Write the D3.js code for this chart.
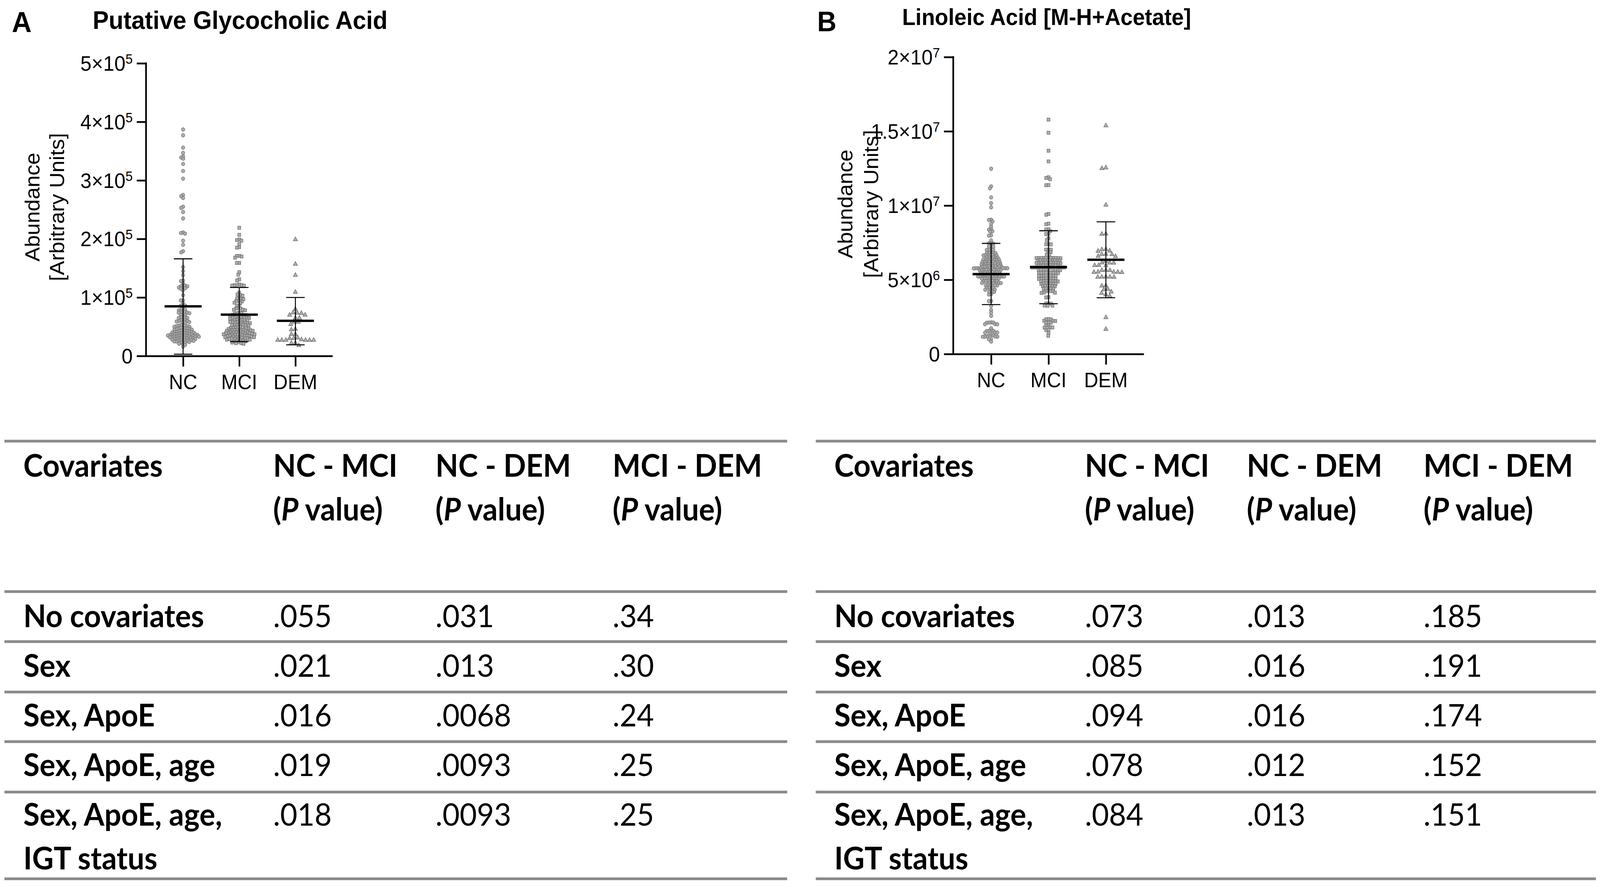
<!DOCTYPE html>
<html><head><meta charset="utf-8">
<script src="https://cdn.jsdelivr.net/npm/d3@7"></script>
<style>html,body{margin:0;padding:0;background:#fff;overflow:hidden} svg{display:block;width:100vw;height:100vh}</style>
</head><body>
<svg id="c" viewBox="0 0 4317 2270" preserveAspectRatio="none"></svg>
<script>
const categories = ["NC","MCI","DEM"];

// Panel A: Putative Glycocholic Acid, values in units of 1e5
const ncA = [3.87,3.77,3.56,3.47,3.41,3.39,3.37,3.28,3.16,3.03,2.75,2.73,2.70,2.55,2.53,2.46,2.35,2.11,2.10,2.09,1.97,1.90,1.79,1.77,
1.52,1.45,1.38,1.29,1.28,1.24,1.20,1.20,1.19,1.19,1.17,1.16,1.16,1.15,1.12,1.04,0.95,0.95,0.90,0.86,0.86,0.86,
0.80,0.79,0.79,0.78,0.76,0.75,0.75,0.74,0.74,0.73,0.71,0.70,0.70,0.67,0.66,0.66,0.65,0.65,
0.62,0.61,0.61,0.60,0.60,0.59,0.58,0.58,0.57,
0.53,0.53,0.52,0.52,0.51,0.51,0.50,0.50,
0.48,0.48,0.47,0.47,0.47,0.46,0.46,0.45,0.45,0.44,
0.43,0.43,0.42,0.42,0.42,0.41,0.41,0.41,0.40,0.40,0.40,0.39,
0.39,0.38,0.38,0.38,0.37,0.37,0.37,0.37,0.36,0.36,0.36,0.36,0.35,0.35,
0.35,0.34,0.34,0.34,0.34,0.33,0.33,0.33,0.33,0.32,0.32,0.32,0.31,0.31,
0.31,0.30,0.30,0.30,0.29,0.29,0.29,0.28,0.28,0.28,0.27,0.27,
0.27,0.26,0.26,0.26,0.25,0.25,0.24,0.24,0.23,0.23,
0.21,0.20,0.19,0.16];
const mciA = [2.19,2.07,1.99,1.98,1.97,1.91,1.86,1.85,1.71,1.71,1.70,1.68,1.59,1.59,1.43,1.39,1.31,1.29,1.22,1.21,1.21,1.21,1.20,1.20,
1.08,1.05,1.04,1.03,1.00,0.98,0.97,0.97,0.94,0.94,0.93,0.91,0.90,0.86,0.86,0.82,0.81,0.81,0.79,0.79,0.78,
0.74,0.73,0.73,0.72,0.70,0.70,0.70,0.69,0.69,0.69,0.68,0.66,0.66,0.66,0.65,0.65,0.65,0.64,0.64,
0.62,0.62,0.61,0.61,0.61,0.60,0.58,0.58,0.58,0.57,0.57,0.57,0.56,0.56,
0.54,0.54,0.53,0.53,0.53,0.52,0.52,0.50,0.49,0.49,0.49,0.48,0.48,0.48,0.47,
0.46,0.45,0.45,0.45,0.44,0.44,0.44,0.43,0.43,0.43,0.42,0.41,0.41,0.41,0.40,0.40,0.40,0.39,0.39,0.39,
0.38,0.38,0.38,0.37,0.37,0.37,0.36,0.36,0.36,0.35,0.35,0.34,0.34,0.34,0.33,0.33,0.33,0.32,0.32,0.32,
0.31,0.30,0.30,0.30,0.29,0.29,0.29,0.28,0.28,0.27,0.26,0.26,0.25,0.25,0.24,0.23,0.22,0.22,0.21];
const demA = [1.99,1.57,1.38,1.09,0.80,0.74,0.735,0.73,0.70,0.70,0.65,0.65,0.58,0.58,0.54,0.45,0.46,0.37,0.37,0.31,0.30,0.30,
0.27,0.27,0.27,0.27,0.27,0.27,0.28,0.22,0.22,0.18];
const meanA = [0.847, 0.706, 0.600];
const sdLowA = [0.03, 0.246, 0.19];
const sdHighA = [1.66, 1.17, 1.00];
const ticksA = [0,1,2,3,4,5];
const tickMainA = ["0","1×10","2×10","3×10","4×10","5×10"];
const tickSupA = ["","5","5","5","5","5"];

// Panel B: Linoleic Acid [M-H+Acetate], values in units of 1e6
const ncB = [12.48,11.29,11.16,10.55,10.16,9.88,9.05,9.03,8.93,8.76,8.57,8.40,8.38,8.27,8.25,7.99,7.97,7.65,
7.47,7.46,7.44,7.26,7.25,7.23,7.04,7.03,7.02,7.01,6.82,6.81,6.81,6.80,6.79,6.67,6.66,6.66,6.65,6.64,6.66,
6.51,6.50,6.50,6.49,6.51,6.48,6.37,6.36,6.36,6.35,6.37,6.34,6.36,6.35,6.21,6.20,6.20,6.19,6.21,6.18,6.20,6.19,
6.06,6.05,6.05,6.04,6.06,6.03,6.05,6.04,6.05,5.91,5.90,5.90,5.89,5.91,5.88,5.90,5.89,5.90,
5.79,5.78,5.78,5.77,5.79,5.76,5.78,5.77,5.78,5.79,5.65,5.64,5.64,5.63,5.65,5.62,5.64,5.63,5.64,5.65,
5.50,5.49,5.49,5.48,5.50,5.47,5.49,5.48,5.49,5.36,5.35,5.35,5.34,5.36,5.33,5.35,5.34,5.35,
5.23,5.22,5.22,5.21,5.23,5.20,5.22,5.21,5.09,5.08,5.08,5.07,5.09,5.06,5.08,5.07,
4.92,4.91,4.91,4.90,4.92,4.89,4.91,4.79,4.78,4.78,4.77,4.79,4.76,4.64,4.63,4.63,4.62,4.64,
4.47,4.46,4.46,4.45,4.34,4.33,4.32,4.20,4.19,4.18,4.03,4.01,3.58,3.56,3.24,2.96,2.79,2.57,
2.13,2.12,2.12,2.11,2.02,2.01,2.00,1.73,1.57,1.56,1.56,1.55,1.46,1.45,1.44,1.29,1.28,1.27,
1.18,1.17,1.17,1.16,1.18,1.01,0.99,0.84];
const mciB = [15.79,14.90,13.69,12.97,11.90,11.86,11.77,11.38,11.37,9.43,9.38,8.78,8.74,8.40,8.39,8.28,8.10,8.08,7.79,7.67,
7.40,7.39,7.38,7.04,7.03,7.02,6.87,6.85,6.71,6.69,
6.48,6.47,6.47,6.46,6.48,6.45,6.47,6.46,6.47,6.48,6.46,
6.32,6.31,6.31,6.30,6.32,6.29,6.31,6.30,6.31,6.32,
6.15,6.14,6.14,6.13,6.15,6.12,6.14,6.13,6.14,6.15,6.13,
5.98,5.97,5.97,5.96,5.98,5.95,5.97,5.96,5.97,
5.84,5.83,5.83,5.82,5.84,5.81,5.83,5.82,5.83,5.84,
5.67,5.66,5.66,5.65,5.67,5.64,5.66,5.65,5.66,
5.48,5.47,5.47,5.46,5.48,5.45,5.47,5.46,5.47,
5.28,5.27,5.27,5.26,5.28,5.25,5.27,5.26,
5.09,5.08,5.08,5.07,5.09,5.06,5.08,5.07,
4.92,4.91,4.91,4.90,4.92,4.89,4.91,4.90,
4.75,4.74,4.74,4.73,4.75,4.72,4.74,
4.59,4.58,4.58,4.57,4.59,4.56,
4.42,4.41,4.41,4.40,4.42,4.25,4.24,4.24,4.23,4.14,4.13,4.12,3.83,3.81,
3.41,3.40,3.39,3.27,3.26,3.25,2.35,2.34,2.33,2.24,2.23,2.22,2.13,2.12,2.11,1.93,1.91,1.80,1.79,1.78,1.63,1.61,1.40,1.23];
const demB = [15.38,12.55,12.50,10.04,8.10,8.08,7.06,7.04,6.95,6.93,6.73,6.72,6.71,6.59,6.57,6.25,6.15,6.14,6.13,5.98,5.97,5.96,
5.65,5.64,5.63,5.53,5.52,5.52,5.51,5.50,5.20,5.19,5.19,5.18,5.18,4.61,4.59,4.36,4.34,4.19,4.10,4.00,3.91,2.46,1.67];
const meanB = [5.38, 5.85, 6.35];
const sdLowB = [3.33, 3.39, 3.79];
const sdHighB = [7.45, 8.30, 8.90];
const ticksB = [0,5,10,15,20];
const tickMainB = ["0","5×10","1×10","1.5×10","2×10"];
const tickSupB = ["","6","7","7","7"];

// Tables
const tableHeads = ["Covariates","NC - MCI","NC - DEM","MCI - DEM"];
const covariateRows = [["No covariates"],["Sex"],["Sex, ApoE"],["Sex, ApoE, age"],["Sex, ApoE, age,","IGT status"]];
const pA_ncmci = [".055",".021",".016",".019",".018"];
const pA_ncdem = [".031",".013",".0068",".0093",".0093"];
const pA_mcidem = [".34",".30",".24",".25",".25"];
const pB_ncmci = [".073",".085",".094",".078",".084"];
const pB_ncdem = [".013",".016",".016",".012",".013"];
const pB_mcidem = [".185",".191",".174",".152",".151"];

const svg = d3.select("#c");
const AX = "'Liberation Sans', Arial, sans-serif";
const TF = "Lato, 'Open Sans', sans-serif";

function swarm(values, y, step) {
  const pts = values.map(v => ({v, y: y(v), x: 0}));
  const order = pts.slice().sort((a, b) => a.y - b.y);
  const placed = [];
  const s2 = step * step;
  for (const p of order) {
    const cands = [0];
    for (const q of placed) {
      const dy = Math.abs(q.y - p.y);
      if (dy < step) {
        const dx = Math.sqrt(s2 - dy * dy);
        cands.push(q.x + dx, q.x - dx);
      }
    }
    cands.sort((a, b) => Math.abs(a) - Math.abs(b) || a - b);
    for (const c of cands) {
      let ok = true;
      for (const q of placed) {
        if ((q.x - c) ** 2 + (q.y - p.y) ** 2 < s2 - 0.01) { ok = false; break; }
      }
      if (ok) { p.x = c; break; }
    }
    placed.push(p);
  }
  return pts;
}

function panel(o) {
  const g = svg.append("g");
  const y = d3.scaleLinear().domain(o.domain).range([o.y0, o.y1]);
  const x = d3.scalePoint().domain(categories).range([o.axX, o.axXEnd]).padding(0.66);

  g.append("text").attr("x", o.letterX).attr("y", o.letterY).attr("font-family", AX)
    .attr("font-weight", "bold").attr("font-size", o.letterSize).text(o.letter);
  g.append("text").attr("x", o.titleX).attr("y", o.titleY).attr("font-family", AX)
    .attr("font-weight", "bold").attr("font-size", o.titleSize).text(o.title);

  const syms = [d3.symbolCircle, d3.symbolSquare, d3.symbolTriangle];
  const sizes = [62, 62, 56];
  const steps = [6, 6.5, 11];
  o.groups.forEach((vals, i) => {
    const pts = swarm(vals, y, steps[i]);
    g.append("g").selectAll("path").data(pts).join("path")
      .attr("d", d3.symbol(syms[i], sizes[i])())
      .attr("transform", d => `translate(${x(categories[i]) + d.x},${d.y})`)
      .attr("fill", "#a6a6a6").attr("fill-opacity", 0.9)
      .attr("stroke", "#747474").attr("stroke-width", 1.5);
  });

  categories.forEach((c, i) => {
    const cx = x(c);
    g.append("line").attr("x1", cx).attr("x2", cx).attr("y1", y(o.sdLow[i])).attr("y2", y(o.sdHigh[i]))
      .attr("stroke", "#000").attr("stroke-width", 2.6);
    [o.sdLow[i], o.sdHigh[i]].forEach(v => {
      g.append("line").attr("x1", cx - 25).attr("x2", cx + 25).attr("y1", y(v)).attr("y2", y(v))
        .attr("stroke", "#000").attr("stroke-width", 2.6);
    });
    g.append("line").attr("x1", cx - 50).attr("x2", cx + 50).attr("y1", y(o.mean[i])).attr("y2", y(o.mean[i]))
      .attr("stroke", "#000").attr("stroke-width", 6);
  });

  const ya = g.append("g").attr("transform", `translate(${o.axX},0)`)
    .call(d3.axisLeft(y).tickValues(o.ticks).tickSize(25).tickSizeOuter(0).tickFormat(""));
  ya.selectAll("path,line").attr("stroke", "#000").attr("stroke-width", 4.5);
  ya.select(".domain").attr("d", `M0,${o.y0 + 2.25}V${o.y1 - 2.25}`);
  const xa = g.append("g").attr("transform", `translate(0,${o.y0})`)
    .call(d3.axisBottom(x).tickSize(27).tickSizeOuter(0).tickFormat(""));
  xa.selectAll("path,line").attr("stroke", "#000").attr("stroke-width", 4.5);

  o.ticks.forEach((t, i) => {
    const tx = g.append("text").attr("x", o.axX - 36).attr("y", y(t) + 19).attr("text-anchor", "end")
      .attr("font-family", AX).attr("font-size", 54);
    tx.append("tspan").text(o.tickMain[i]);
    if (o.tickSup[i]) tx.append("tspan").attr("dy", -18).attr("font-size", 35).text(o.tickSup[i]);
  });
  categories.forEach(c => {
    g.append("text").attr("x", x(c)).attr("y", o.y0 + 85).attr("text-anchor", "middle")
      .attr("font-family", AX).attr("font-size", 53).text(c);
  });

  const yl = g.append("g").attr("transform", `translate(0,${o.labelY}) rotate(-90)`);
  yl.append("text").attr("x", 0).attr("y", o.label1X).attr("text-anchor", "middle")
    .attr("font-family", AX).attr("font-size", 55).text("Abundance");
  yl.append("text").attr("x", 0).attr("y", o.label2X).attr("text-anchor", "middle")
    .attr("font-family", AX).attr("font-size", 55).text("[Arbitrary Units]");
}

panel({letter: "A", letterX: 32, letterY: 82, letterSize: 74,
  title: "Putative Glycocholic Acid", titleX: 250, titleY: 74, titleSize: 65,
  domain: [0, 5], y0: 911, y1: 162, axX: 394, axXEnd: 897,
  groups: [ncA, mciA, demA], mean: meanA, sdLow: sdLowA, sdHigh: sdHighA,
  ticks: ticksA, tickMain: tickMainA, tickSup: tickSupA,
  labelY: 530, label1X: 106, label2X: 173});

panel({letter: "B", letterX: 2205, letterY: 80, letterSize: 72,
  title: "Linoleic Acid [M-H+Acetate]", titleX: 2434, titleY: 64, titleSize: 59,
  domain: [0, 20], y0: 906, y1: 146, axX: 2572, axXEnd: 3086,
  groups: [ncB, mciB, demB], mean: meanB, sdLow: sdLowB, sdHigh: sdHighB,
  ticks: ticksB, tickMain: tickMainB, tickSup: tickSupB,
  labelY: 522, label1X: 2300, label2X: 2369});

function table(o) {
  const g = svg.append("g");
  const lineYs = [1129, 1514, 1642, 1771, 1898, 2027, 2249];
  const rowY = [1605, 1732, 1859, 1986, 2113];
  lineYs.forEach(ly => g.append("line").attr("x1", o.x1).attr("x2", o.x2).attr("y1", ly).attr("y2", ly)
    .attr("stroke", "#8a8a8a").attr("stroke-width", 7));
  const fs = 80;
  tableHeads.forEach((h, j) => {
    g.append("text").attr("x", o.cols[j]).attr("y", 1220).attr("font-family", TF).attr("font-weight", "bold")
      .attr("font-size", fs).text(h);
    if (j > 0) {
      const t = g.append("text").attr("x", o.cols[j]).attr("y", 1332).attr("font-family", TF)
        .attr("font-weight", "bold").attr("font-size", fs);
      t.append("tspan").text("(");
      t.append("tspan").attr("font-style", "italic").text("P");
      t.append("tspan").text(" value)");
    }
  });
  covariateRows.forEach((r, i) => {
    r.forEach((line, k) => {
      g.append("text").attr("x", o.cols[0]).attr("y", rowY[i] + k * 112).attr("font-family", TF)
        .attr("font-weight", "bold").attr("font-size", fs).text(line);
    });
    o.vals.forEach((col, j) => {
      g.append("text").attr("x", o.cols[j + 1]).attr("y", rowY[i]).attr("font-family", TF)
        .attr("font-size", fs).text(col[i]);
    });
  });
}
table({x1: 12, x2: 2124, cols: [63, 737, 1175, 1653], vals: [pA_ncmci, pA_ncdem, pA_mcidem]});
table({x1: 2201, x2: 4306, cols: [2251, 2927, 3364, 3841], vals: [pB_ncmci, pB_ncdem, pB_mcidem]});
</script>
</body></html>
